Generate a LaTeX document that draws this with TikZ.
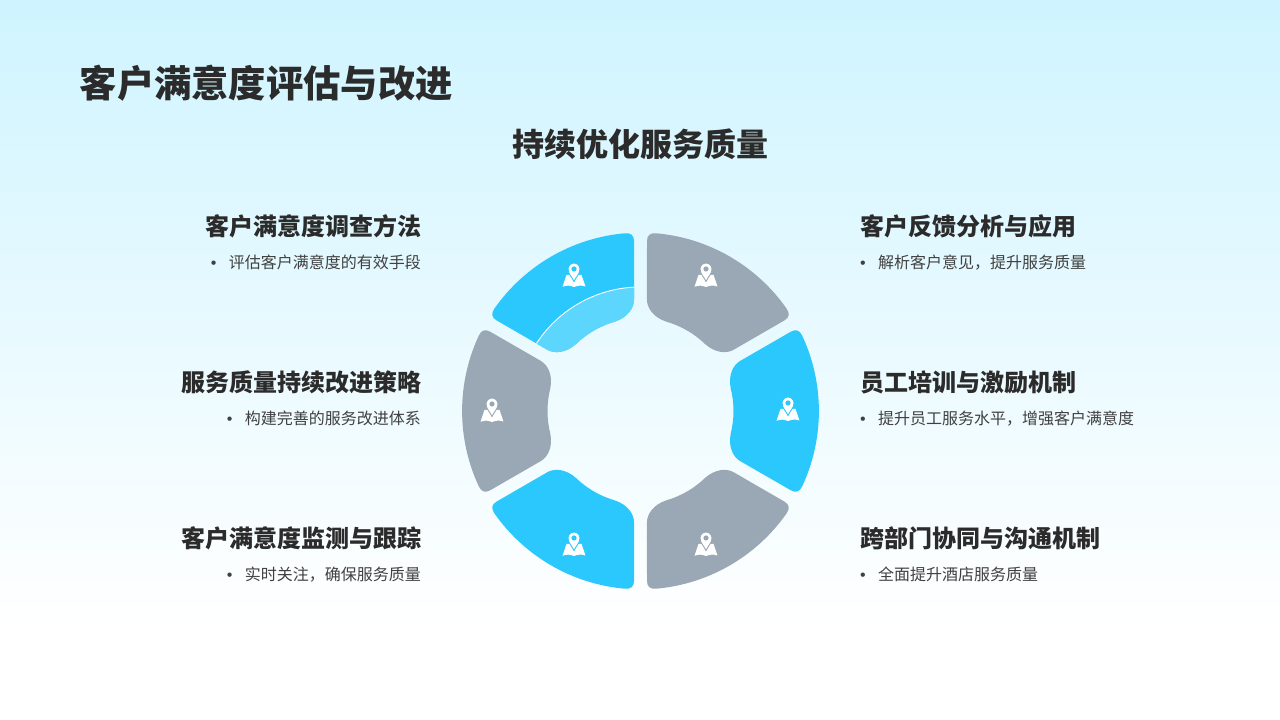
\documentclass[tikz,border=0pt]{standalone}
\usepackage{fontspec}
\setmainfont{Noto Sans CJK SC}
\newfontfamily\bulletfont{Liberation Sans}
\definecolor{segblue}{HTML}{2AC8FC}
\definecolor{seggray}{HTML}{9AA8B6}
\definecolor{seglight}{HTML}{5CD6FC}
\definecolor{bgtop}{HTML}{CFF4FF}
\definecolor{inkdark}{HTML}{2B2B2B}
\definecolor{inkbody}{HTML}{404040}
\newcommand{\segpath}{(-25:178.4) arc[start angle=-25,end angle=25,radius=178.4]
  .. controls (26.8:178.5) and (27.9:176) .. (27.81:170.1)
  -- (26.7:112) .. controls (26.5:103) and (22:94.5) .. (14:93)
  arc[start angle=14,end angle=-14,radius=93]
  .. controls (-22:94.5) and (-26.5:103) .. (-26.7:112)
  -- (-27.81:170.1) .. controls (-27.9:176) and (-26.8:178.5) .. cycle}
\newcommand{\seg}[2]{\fill[#2,shift={(640.5,309)},rotate=#1] \segpath;}
\newcommand{\mapicon}[4]{%
  \begin{scope}[shift={(#2,#3)}]
    \coordinate (#1) at (0,0);
    \fill[white] (-7.5,1) -- (7.5,1) -- (11.5,-10.5) .. controls (7,-9) and (4,-9.5) .. (0,-11)
      .. controls (-4,-9.5) and (-7,-9) .. (-11.5,-10.8) -- cycle;
    \fill[white,draw=#4,line width=.9pt] (0,-5.5) .. controls (-2,-1) and (-6,2) .. (-6,7)
      arc[start angle=180,end angle=0,radius=6]
      .. controls (6,2) and (2,-1) .. cycle;
    \fill[#4] (0,7) circle[radius=2.6];
  \end{scope}}
\tikzset{
  pagetitle/.style={font=\bfseries\fontsize{37.3}{40}\selectfont,text=inkdark,inner sep=0pt,anchor=west},
  subhead/.style={font=\bfseries\fontsize{32}{36}\selectfont,text=inkdark,inner sep=0pt},
  itemhead/.style={font=\bfseries\fontsize{24}{28}\selectfont,text=inkdark,inner sep=0pt},
  itembody/.style={font=\fontsize{16}{20}\selectfont,text=inkbody,inner sep=0pt}
}
\newcommand{\bul}{\makebox[18pt][l]{\bulletfont •}}
\begin{document}
\begin{tikzpicture}[x=1pt,y=1pt]
\useasboundingbox (0,0) rectangle (1280,720);
\fill[white] (0,0) rectangle (1280,720);
\shade[top color=bgtop,bottom color=white] (0,95) rectangle (1280,720);

\node[pagetitle] (title) at (79.5,637) {客户满意度评估与改进};
\node[subhead] (sub) at (640,576) {持续优化服务质量};

\seg{120}{segblue}
\seg{60}{seggray}
\seg{0}{segblue}
\seg{-60}{seggray}
\seg{-120}{segblue}
\seg{180}{seggray}
\begin{scope}[shift={(640.5,309)},rotate=120]
  \clip \segpath;
  \fill[seglight] (0,0) circle[radius=124];
  \draw[white,line width=.9pt] (0,0) circle[radius=124];
\end{scope}

\mapicon{i1}{574}{444}{segblue}
\mapicon{i2}{706}{444}{seggray}
\mapicon{i3}{788}{310}{segblue}
\mapicon{i4}{706}{175}{seggray}
\mapicon{i5}{574}{175}{segblue}
\mapicon{i6}{492}{309}{seggray}

\node[itemhead,anchor=east] (h1) at (422,494) {客户满意度调查方法};
\node[itembody,anchor=east] (b1) at (421,457.5) {\bul 评估客户满意度的有效手段};
\node[itemhead,anchor=east] (h2) at (422,338) {服务质量持续改进策略};
\node[itembody,anchor=east] (b2) at (421,301.5) {\bul 构建完善的服务改进体系};
\node[itemhead,anchor=east] (h3) at (422,182) {客户满意度监测与跟踪};
\node[itembody,anchor=east] (b3) at (421,145.5) {\bul 实时关注，确保服务质量};

\node[itemhead,anchor=west] (h4) at (860,494) {客户反馈分析与应用};
\node[itembody,anchor=west] (b4) at (860,457.5) {\bul 解析客户意见，提升服务质量};
\node[itemhead,anchor=west] (h5) at (860,338) {员工培训与激励机制};
\node[itembody,anchor=west] (b5) at (860,301.5) {\bul 提升员工服务水平，增强客户满意度};
\node[itemhead,anchor=west] (h6) at (860,182) {跨部门协同与沟通机制};
\node[itembody,anchor=west] (b6) at (860,145.5) {\bul 全面提升酒店服务质量};
\end{tikzpicture}
\end{document}
